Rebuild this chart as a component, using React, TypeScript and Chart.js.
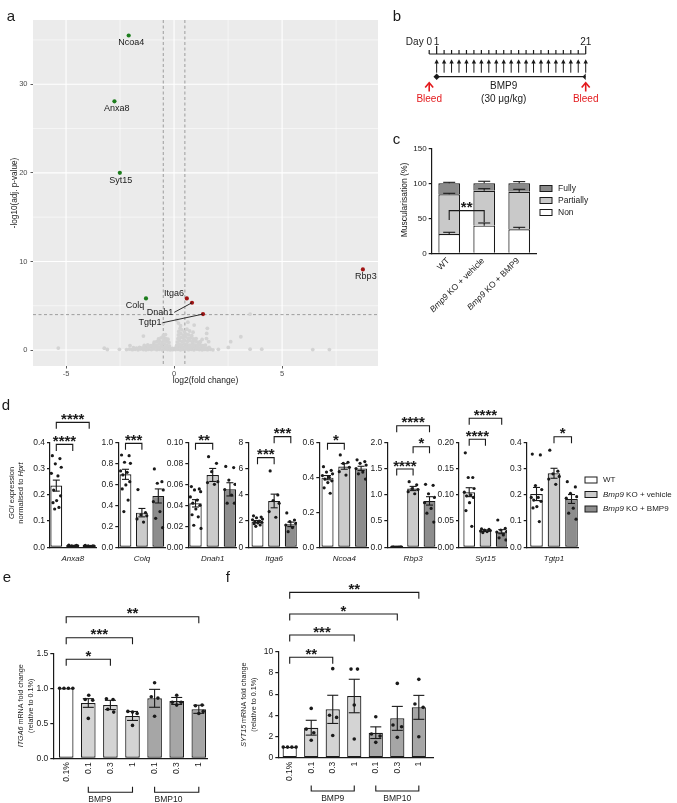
import React, { useEffect, useRef } from 'react';
import { Chart, registerables } from 'chart.js';

Chart.register(...registerables);

const PAGE_W = 677;
const PAGE_H = 803;
const SANS = "'Liberation Sans', Arial, Helvetica, sans-serif";
const INK = '#1a1a1a';
const RED = '#e3191c';

Chart.defaults.font.family = SANS;
Chart.defaults.color = INK;

/* ---------------- a: volcano plot ---------------- */
const VOLCANO_GENES = ['Ncoa4', 'Anxa8', 'Syt15', 'Colq', 'Itga6', 'Dnah1', 'Tgtp1', 'Rbp3'];
const VOLCANO_LOG2FC = [-2.1, -2.76, -2.51, -1.3, 0.59, 0.83, 1.34, 8.74];
const VOLCANO_NEGLOG10P = [35.5, 28.07, 20.0, 5.83, 5.83, 5.34, 4.06, 9.1];
// remaining (non-significant) genes: [log2FC, -log10 adj. p]
const VOLCANO_BACKGROUND: number[][] = [
  [-5.36, 0.22], [-3.23, 0.21], [-3.09, 0.06], [-2.53, 0.08], [-2.04, 0.5], [-1.42, 1.58],
  [-2.2, 0.05], [-2.06, 0.1], [-1.93, 0.04], [-1.8, 0.08], [-1.67, 0.03], [-1.55, 0.11], [-1.42, 0.06], [-1.3, 0.02],
  [-1.18, 0.09], [-1.05, 0.05], [-0.93, 0.12], [-0.8, 0.04], [-0.68, 0.08], [-0.55, 0.03], [-0.43, 0.1], [-0.3, 0.06],
  [-0.18, 0.02], [-0.06, 0.04], [0.06, 0.05], [0.18, 0.09], [0.3, 0.03], [0.42, 0.07], [0.55, 0.11], [0.67, 0.04],
  [0.8, 0.08], [0.92, 0.03], [1.05, 0.1], [1.17, 0.05], [1.3, 0.02], [1.42, 0.07], [1.55, 0.04], [1.68, 0.09], [1.8, 0.03],
  [-1.88, 0.28], [-1.74, 0.22], [-1.6, 0.31], [-1.47, 0.25], [-1.33, 0.33], [-1.2, 0.27], [-1.07, 0.35], [-0.95, 0.29],
  [-0.82, 0.36], [-0.7, 0.3], [-0.58, 0.38], [-0.45, 0.32], [-0.33, 0.27], [-0.2, 0.24], [-0.08, 0.2], [0.05, 0.22],
  [0.16, 0.3], [0.28, 0.36], [0.4, 0.29], [0.52, 0.38], [0.64, 0.33], [0.76, 0.27], [0.88, 0.36], [1.0, 0.3],
  [1.12, 0.25], [1.25, 0.33], [1.37, 0.28], [1.5, 0.22], [1.62, 0.3],
  [-1.38, 0.52], [-1.22, 0.58], [-1.08, 0.5], [-0.95, 0.62], [-0.82, 0.55], [-0.7, 0.68], [-0.58, 0.6], [-0.46, 0.7],
  [-0.34, 0.56], [-0.22, 0.48], [0.12, 0.52], [0.24, 0.64], [0.36, 0.58], [0.48, 0.7], [0.6, 0.62], [0.72, 0.55],
  [0.84, 0.66], [0.96, 0.58], [1.08, 0.52], [1.2, 0.6], [1.33, 0.5], [1.45, 0.56],
  [-0.92, 0.88], [-0.8, 0.95], [-0.68, 1.02], [-0.56, 0.9], [-0.45, 1.08], [-0.34, 0.96], [-0.24, 0.86], [0.15, 0.9],
  [0.26, 1.05], [0.38, 0.95], [0.5, 1.1], [0.62, 0.98], [0.74, 1.06], [0.86, 0.92], [0.98, 1.02], [1.1, 0.88],
  [1.22, 0.95], [1.6, 0.94],
  [-0.72, 1.25], [-0.6, 1.38], [-0.48, 1.45], [-0.38, 1.3], [-0.28, 1.22], [0.18, 1.28], [0.3, 1.42], [0.42, 1.35],
  [0.54, 1.48], [0.66, 1.32], [0.78, 1.4], [0.9, 1.25], [1.02, 1.3], [1.3, 1.2], [1.5, 1.3],
  [-0.5, 1.62], [-0.4, 1.75], [0.2, 1.7], [0.32, 1.85], [0.44, 1.66], [0.56, 1.8], [0.68, 1.72], [0.82, 1.62], [1.51, 1.88],
  [0.22, 2.1], [0.36, 2.28], [0.48, 2.05], [0.6, 2.35], [0.72, 2.15], [0.88, 2.02], [0.28, 2.45], [1.54, 2.45],
  [0.3, 2.75], [0.93, 2.82], [0.12, 3.39], [0.64, 3.15], [-0.5, 3.0], [0.2, 3.05],
  [2.05, 0.08], [2.51, 0.3], [2.62, 0.94], [3.09, 1.5], [3.52, 0.1], [4.06, 0.1], [6.42, 0.05], [7.19, 0.05], [3.52, 4.06],
];
const LOG2FC_CUTOFFS = [-0.5, 0.5];
const NEGLOG10P_CUTOFF = 4;
const VOLCANO_X_MAJOR = [-5, 0, 5];
const VOLCANO_X_MINOR = [-2.5, 2.5, 7.5];
const VOLCANO_Y_MAJOR = [0, 10, 20, 30];
const VOLCANO_Y_MINOR = [5, 15, 25, 35];
// label placement in px relative to each point, and whether a leader line is drawn
const VOLCANO_LABEL_SHIFT = [[2.5, 6.6], [2.4, 7], [1, 7.3], [-11, 6.7], [-12.7, -5], [-32, 9.6], [-53, 8.7], [3, 7]];
const VOLCANO_LEADER = [false, false, false, false, false, true, true, false];

/* ---------------- b: dosing timeline ---------------- */
const DOSING_DAYS = [1, 2, 3, 4, 5, 6, 7, 8, 9, 10, 11, 12, 13, 14, 15, 16, 17, 18, 19, 20, 21];
const RULER_DAYS = [0, 1, 2, 3, 4, 5, 6, 7, 8, 9, 10, 11, 12, 13, 14, 15, 16, 17, 18, 19, 20, 21];
const BLEED_DAYS = [0, 21];
const LABELLED_DAYS = [1, 21];
const DOSE_SPAN = [1, 21];

/* ---------------- c: muscularisation ---------------- */
const C_GROUPS: [string, boolean][][] = [
  [['WT', false]],
  [['Bmp9', true], [' KO + vehicle', false]],
  [['Bmp9', true], [' KO + BMP9', false]],
];
const C_NON = [27.5, 39.5, 34.3];
const C_PARTIAL = [56.8, 49.9, 53.7];
const C_FULLY = [15.7, 10.6, 12.0];
const C_NON_SEM = [2.5, 3.8, 2.8];
const C_PARTIAL_SEM = [1.4, 2.9, 3.4];
const C_FULLY_SEM = [1.4, 2.9, 2.4];
const C_CATEGORIES = ['Non', 'Partially', 'Fully'];

/* ---------------- d: qPCR of candidate genes ---------------- */
const D_GENES = ['Anxa8', 'Colq', 'Dnah1', 'Itga6', 'Ncoa4', 'Rbp3', 'Syt15', 'Tgtp1'];
const ANXA8_MEAN = [0.235, 0.006, 0.005];
const ANXA8_SEM = [0.021, 0.001, 0.001];
const ANXA8_DOTS = [
  [0.349, 0.338, 0.318, 0.305, 0.282, 0.272, 0.218, 0.196, 0.178, 0.17, 0.152, 0.146],
  [0.008, 0.007, 0.006, 0.006, 0.005, 0.005, 0.004],
  [0.007, 0.006, 0.006, 0.005, 0.005, 0.004, 0.004, 0.003],
];
const COLQ_MEAN = [0.695, 0.33, 0.489];
const COLQ_SEM = [0.048, 0.04, 0.067];
const COLQ_DOTS = [
  [0.879, 0.873, 0.81, 0.8, 0.727, 0.714, 0.689, 0.625, 0.594, 0.556, 0.45, 0.34],
  [0.55, 0.33, 0.31, 0.3, 0.27, 0.24],
  [0.746, 0.625, 0.61, 0.546, 0.435, 0.34, 0.276, 0.187],
];
const DNAH1_MEAN = [0.0419, 0.0689, 0.0552];
const DNAH1_SEM = [0.0035, 0.0062, 0.0063];
const DNAH1_DOTS = [
  [0.0578, 0.0556, 0.0546, 0.053, 0.048, 0.045, 0.042, 0.04, 0.0365, 0.031, 0.029, 0.021, 0.018],
  [0.0863, 0.08, 0.072, 0.0625, 0.0616, 0.06],
  [0.077, 0.0759, 0.064, 0.06, 0.055, 0.0498, 0.042, 0.042],
];
const ITGA6_MEAN = [1.956, 3.53, 1.75];
const ITGA6_SEM = [0.08, 0.52, 0.17];
const ITGA6_DOTS = [
  [2.4, 2.3, 2.25, 2.15, 2.1, 2.0, 1.95, 1.9, 1.85, 1.8, 1.7, 1.6],
  [5.82, 3.99, 3.56, 3.35, 2.72, 2.29],
  [2.62, 2.08, 1.96, 1.83, 1.7, 1.5, 1.19],
];
const NCOA4_MEAN = [0.398, 0.462, 0.451];
const NCOA4_SEM = [0.012, 0.016, 0.012];
const NCOA4_DOTS = [
  [0.461, 0.44, 0.43, 0.42, 0.41, 0.4, 0.39, 0.38, 0.37, 0.34, 0.309],
  [0.528, 0.486, 0.48, 0.457, 0.432, 0.413],
  [0.5, 0.49, 0.48, 0.47, 0.45, 0.43, 0.42, 0.39],
];
const RBP3_MEAN = [0.004, 1.12, 0.884];
const RBP3_SEM = [0.001, 0.04, 0.08];
const RBP3_DOTS = [
  [0.006, 0.005, 0.005, 0.004, 0.004, 0.003, 0.003, 0.003, 0.002, 0.002, 0.002],
  [1.25, 1.19, 1.12, 1.1, 1.06, 1.02],
  [1.2, 1.18, 1.02, 0.95, 0.85, 0.74, 0.65, 0.48],
];
const SYT15_MEAN = [0.105, 0.0317, 0.0298];
const SYT15_SEM = [0.0085, 0.0015, 0.0038];
const SYT15_DOTS = [
  [0.18, 0.133, 0.133, 0.112, 0.105, 0.1, 0.098, 0.095, 0.085, 0.07, 0.04],
  [0.035, 0.034, 0.033, 0.032, 0.031, 0.03, 0.028],
  [0.052, 0.036, 0.033, 0.03, 0.029, 0.0235, 0.018, 0.014],
];
const TGTP1_MEAN = [0.203, 0.282, 0.184];
const TGTP1_SEM = [0.025, 0.019, 0.017];
const TGTP1_DOTS = [
  [0.355, 0.352, 0.235, 0.22, 0.19, 0.19, 0.18, 0.175, 0.155, 0.15, 0.098],
  [0.37, 0.29, 0.28, 0.27, 0.26, 0.24],
  [0.25, 0.23, 0.206, 0.193, 0.187, 0.149, 0.13, 0.107],
];
const D_MEANS = [ANXA8_MEAN, COLQ_MEAN, DNAH1_MEAN, ITGA6_MEAN, NCOA4_MEAN, RBP3_MEAN, SYT15_MEAN, TGTP1_MEAN];
const D_SEMS = [ANXA8_SEM, COLQ_SEM, DNAH1_SEM, ITGA6_SEM, NCOA4_SEM, RBP3_SEM, SYT15_SEM, TGTP1_SEM];
const D_DOTS = [ANXA8_DOTS, COLQ_DOTS, DNAH1_DOTS, ITGA6_DOTS, NCOA4_DOTS, RBP3_DOTS, SYT15_DOTS, TGTP1_DOTS];
const D_YMAX = [0.4, 1.0, 0.1, 8, 0.6, 2.0, 0.2, 0.4];
const D_YSTEP = [0.1, 0.2, 0.02, 2, 0.2, 0.5, 0.05, 0.1];
const D_DECIMALS = [1, 1, 2, 0, 1, 1, 2, 1];
// comparisons: [group a, group b, bracket height (axis units), number of stars]
const D_COMPARISONS = [
  [[0, 1, 0.392, 4], [0, 2, 0.476, 4]],
  [[0, 1, 0.99, 3]],
  [[0, 1, 0.099, 2]],
  [[0, 1, 6.83, 3], [1, 2, 8.43, 3]],
  [[0, 1, 0.594, 1]],
  [[0, 1, 1.491, 4], [1, 2, 1.916, 1], [0, 2, 2.316, 4]],
  [[0, 1, 0.2057, 4], [0, 2, 0.2457, 4]],
  [[1, 2, 0.421, 1]],
];
const D_LEGEND: [string, boolean][][] = [
  [['WT', false]],
  [['Bmp9', true], [' KO + vehicle', false]],
  [['Bmp9', true], [' KO + BMP9', false]],
];
// small-multiple geometry (px): y-axis position, x-axis end, first bar centre, bar pitch
const D_LEFT = [50, 118.3, 188.3, 248.3, 319.3, 387.3, 459, 526.7];
const D_RIGHT = [96.7, 165, 236, 297, 368.5, 436, 507, 578.3];
const D_FIRST = [56.3, 125.5, 195.5, 257.5, 327.5, 396.7, 469.2, 536.5];
const D_PITCH = [16.45, 16.4, 17.2, 16.65, 16.8, 16.4, 16.25, 17.5];
const D_JITTER = [-0.24, 0.22, -0.06, 0.3, -0.3, 0.1, -0.16, 0.26, 0.02, -0.2, 0.16, -0.1, 0.32];
const D_FILL = ['#ffffff', '#cbcbcb', '#8d8d8d'];

/* ---------------- e / f: HPAEC treatments ---------------- */
const DOSE_LABELS = ['0.1%', '0.1', '0.3', '1', '0.1', '0.3', '1'];
const DOSE_GROUPS: [string, number, number][] = [['BMP9', 1, 3], ['BMP10', 4, 6]];
const ITGA6_FC_MEAN = [1.0, 0.79, 0.762, 0.605, 0.857, 0.819, 0.7];
const ITGA6_FC_SEM = [0, 0.062, 0.066, 0.064, 0.128, 0.05, 0.058];
const ITGA6_FC_DOTS = [
  [1, 1, 1, 1], [0.9, 0.84, 0.83, 0.57], [0.85, 0.84, 0.7, 0.66], [0.67, 0.66, 0.64, 0.47],
  [1.08, 0.88, 0.86, 0.6], [0.9, 0.8, 0.8, 0.76], [0.76, 0.75, 0.67, 0.64],
];
const ITGA6_FC_COMPARISONS = [[0, 2, 1.414, 1], [0, 3, 1.723, 3], [0, 6, 2.023, 2]];
const SYT15_FC_MEAN = [1.0, 2.83, 4.56, 5.82, 2.36, 3.71, 4.75];
const SYT15_FC_SEM = [0, 0.7, 1.33, 1.58, 0.55, 1.13, 1.13];
const SYT15_FC_DOTS = [
  [1, 1, 1, 1], [4.65, 2.7, 2.35, 1.65], [8.4, 4.0, 3.8, 2.1], [8.36, 8.36, 4.97, 1.76],
  [3.87, 2.23, 2.04, 1.45], [7.01, 3.08, 2.92, 1.92], [7.39, 5.06, 4.75, 1.98],
];
const SYT15_FC_COMPARISONS = [[0, 2, 9.47, 2], [0, 3, 11.58, 3], [0, 5, 13.56, 1], [0, 6, 15.6, 2]];
// horizontal spread of replicate dots (category units)
const ITGA6_DOT_SHIFT = [
  [-0.3, -0.1, 0.1, 0.3], [0.02, -0.14, 0.2, 0], [-0.18, 0.12, -0.12, 0.15], [-0.21, 0, 0.21, 0],
  [0, -0.15, 0.15, 0], [0, -0.2, 0.2, 0], [0.15, -0.15, 0.2, 0],
];
const SYT15_DOT_SHIFT = [
  [-0.3, -0.1, 0.1, 0.3], [0, -0.23, 0.12, 0], [0, -0.15, 0.18, 0], [-0.15, 0.15, 0, 0],
  [0, -0.2, 0.2, 0], [0, -0.2, 0.2, 0], [0, -0.18, 0.2, 0],
];
const DOSE_FILL = ['#ffffff', '#d4d4d4', '#d4d4d4', '#d4d4d4', '#a6a6a6', '#a6a6a6', '#a6a6a6'];

/* ---------------- drawing helpers ---------------- */
type Run = [string, boolean];
const font = (size: number, italic = false, bold = false) =>
  `${italic ? 'italic ' : ''}${bold ? 'bold ' : ''}${size}px ${SANS}`;

function drawText(ctx: any, runs: Run[] | string, size: number, x: number, y: number,
  align: 'left' | 'center' | 'right' = 'center', angle = 0, color = INK) {
  const parts: Run[] = typeof runs === 'string' ? [[runs, false]] : runs;
  ctx.save();
  ctx.translate(x, y);
  if (angle) ctx.rotate(angle);
  ctx.fillStyle = color;
  ctx.textBaseline = 'middle';
  ctx.textAlign = 'left';
  const widths = parts.map(([t, it]) => { ctx.font = font(size, it); return ctx.measureText(t).width; });
  const total = widths.reduce((a, b) => a + b, 0);
  let cx = align === 'left' ? 0 : align === 'center' ? -total / 2 : -total;
  parts.forEach(([t, it], i) => { ctx.font = font(size, it); ctx.fillText(t, cx, 0); cx += widths[i]; });
  ctx.restore();
  return total;
}

function path(ctx: any, pts: number[][]) {
  ctx.beginPath();
  pts.forEach(([x, y], i) => (i ? ctx.lineTo(x, y) : ctx.moveTo(x, y)));
  ctx.stroke();
}

function drawStars(ctx: any, n: number, cx: number, cy: number) {
  const size = 15;
  ctx.save();
  ctx.font = font(size, false, true);
  ctx.fillStyle = INK;
  ctx.textAlign = 'center';
  ctx.textBaseline = 'alphabetic';
  ctx.fillText('*'.repeat(n), cx, cy + size * 0.58);
  ctx.restore();
}

function drawBracket(ctx: any, x1: number, x2: number, y: number, legL: number, legR: number, n: number) {
  ctx.save();
  ctx.strokeStyle = INK;
  ctx.lineWidth = 1.1;
  path(ctx, [[x1, y + legL], [x1, y], [x2, y], [x2, y + legR]]);
  ctx.restore();
  drawStars(ctx, n, (x1 + x2) / 2, y - 7);
}

function legendBox(ctx: any, x: number, y: number, fill: string) {
  ctx.save();
  ctx.fillStyle = fill;
  ctx.strokeStyle = INK;
  ctx.lineWidth = 1;
  ctx.fillRect(x, y - 3, 12, 6);
  ctx.strokeRect(x, y - 3, 12, 6);
  ctx.restore();
}

/* ---------------- layout helpers ---------------- */
// Places the plot area of a page-sized canvas at (l, t)-(r, b).
function frame(l: number, t: number, r: number, b: number, yW: number, xH: number) {
  const zero = (s: any) => { s.paddingLeft = 0; s.paddingRight = 0; s.paddingTop = 0; s.paddingBottom = 0; };
  return {
    padding: { left: l - yW, top: t, right: PAGE_W - r, bottom: PAGE_H - b - xH },
    fitY: (s: any) => { s.width = yW; zero(s); },
    fitX: (s: any) => { s.height = xH; zero(s); },
  };
}

function baseOptions(fr: any) {
  return {
    responsive: false,
    animation: false,
    devicePixelRatio: 1,
    events: [],
    layout: { padding: fr.padding },
    plugins: { legend: { display: false }, tooltip: { enabled: false } },
  };
}

function prismY(fr: any, max: number, step: number, decimals: number, size: number) {
  return {
    type: 'linear',
    min: 0,
    max,
    afterFit: fr.fitY,
    border: { display: true, color: INK, width: 1.2 },
    grid: { display: true, drawOnChartArea: false, drawTicks: true, tickLength: 3, color: INK, lineWidth: 1.2 },
    ticks: { stepSize: step, color: INK, font: { size, family: SANS }, padding: 2, callback: (v: any) => Number(v).toFixed(decimals) },
  };
}

function prismX(fr: any, min: number, max: number, n: number) {
  return {
    type: 'linear',
    min,
    max,
    offset: false,
    afterFit: fr.fitX,
    afterBuildTicks: (s: any) => { s.ticks = Array.from({ length: n }, (_, i) => ({ value: i })); },
    border: { display: true, color: INK, width: 1.2 },
    grid: { display: false },
    ticks: { display: false },
  };
}

/* ---------------- a ---------------- */
const pageLetters = [['a', 6.7, 20.7], ['b', 392.7, 20.7], ['c', 392.7, 144], ['d', 1.7, 410], ['e', 2.7, 581.7], ['f', 225.7, 581.7]];

function volcanoConfig() {
  const fr = frame(33, 20, 378, 366, 25, 14);
  const genePts = VOLCANO_GENES.map((_, i) => ({ x: VOLCANO_LOG2FC[i], y: VOLCANO_NEGLOG10P[i] }));
  const down = genePts.filter((_, i) => VOLCANO_LOG2FC[i] < 0);
  const up = genePts.filter((_, i) => VOLCANO_LOG2FC[i] >= 0);
  const pointStyle = (c: string, r: number, order: number) => ({
    backgroundColor: c, pointBackgroundColor: c, pointRadius: r, pointBorderWidth: 0, borderWidth: 0, order,
  });
  const decor = {
    id: 'volcanoDecor',
    beforeDatasetsDraw(chart: any) {
      const { ctx, chartArea: a } = chart;
      const xs = chart.scales.x, ys = chart.scales.y;
      ctx.save();
      ctx.fillStyle = '#ebebeb';
      ctx.fillRect(a.left, a.top, a.right - a.left, a.bottom - a.top);
      ctx.strokeStyle = '#ffffff';
      const vline = (v: number) => { const x = xs.getPixelForValue(v); path(ctx, [[x, a.top], [x, a.bottom]]); };
      const hline = (v: number) => { const y = ys.getPixelForValue(v); path(ctx, [[a.left, y], [a.right, y]]); };
      ctx.lineWidth = 0.55;
      VOLCANO_X_MINOR.forEach(vline);
      VOLCANO_Y_MINOR.forEach(hline);
      ctx.lineWidth = 1.1;
      VOLCANO_X_MAJOR.forEach(vline);
      VOLCANO_Y_MAJOR.forEach(hline);
      ctx.strokeStyle = '#8a8a8a';
      ctx.lineWidth = 0.8;
      ctx.setLineDash([3, 2.5]);
      LOG2FC_CUTOFFS.forEach(vline);
      hline(NEGLOG10P_CUTOFF);
      ctx.restore();
    },
    afterDatasetsDraw(chart: any) {
      const { ctx } = chart;
      const xs = chart.scales.x, ys = chart.scales.y;
      VOLCANO_GENES.forEach((g, i) => {
        const px = xs.getPixelForValue(VOLCANO_LOG2FC[i]);
        const py = ys.getPixelForValue(VOLCANO_NEGLOG10P[i]);
        const lx = px + VOLCANO_LABEL_SHIFT[i][0];
        const ly = py + VOLCANO_LABEL_SHIFT[i][1];
        const w = drawText(ctx, g, 9, lx, ly);
        if (VOLCANO_LEADER[i]) {
          ctx.save();
          ctx.strokeStyle = INK;
          ctx.lineWidth = 0.9;
          path(ctx, [[lx + w / 2 + 1, ly], [px, py]]);
          ctx.restore();
        }
      });
    },
    afterDraw(chart: any) {
      const { ctx, chartArea: a } = chart;
      drawText(ctx, 'log2(fold change)', 8.5, (a.left + a.right) / 2, 381);
      drawText(ctx, '-log10(adj. p-value)', 8.2, 14.3, (a.top + a.bottom) / 2, 'center', -Math.PI / 2);
      ctx.save();
      ctx.fillStyle = INK;
      ctx.font = font(15);
      ctx.textBaseline = 'alphabetic';
      ctx.textAlign = 'left';
      pageLetters.forEach(([t, x, y]) => ctx.fillText(t as string, x as number, y as number));
      ctx.restore();
    },
  };
  const axisCommon = {
    border: { display: false },
    grid: { display: true, drawOnChartArea: false, drawTicks: true, tickLength: 2.5, color: '#333333', lineWidth: 0.8 },
  };
  return {
    type: 'scatter',
    data: {
      datasets: [
        { data: VOLCANO_BACKGROUND.map(([x, y]) => ({ x, y })), ...pointStyle('#d3d3d3', 1.9, 3) },
        { data: down, ...pointStyle('#1d7d1d', 2.1, 2) },
        { data: up, ...pointStyle('#a01414', 2.1, 1) },
      ],
    },
    options: {
      ...baseOptions(fr),
      scales: {
        x: {
          type: 'linear', min: -6.53, max: 9.44, afterFit: fr.fitX,
          afterBuildTicks: (s: any) => { s.ticks = VOLCANO_X_MAJOR.map((value) => ({ value })); },
          ...axisCommon,
          ticks: { color: '#4d4d4d', font: { size: 7.5, family: SANS }, padding: 0.5, maxRotation: 0, autoSkip: false },
        },
        y: {
          type: 'linear', min: -1.8, max: 37.25, afterFit: fr.fitY,
          afterBuildTicks: (s: any) => { s.ticks = VOLCANO_Y_MAJOR.map((value) => ({ value })); },
          ...axisCommon,
          ticks: { color: '#4d4d4d', font: { size: 7.5, family: SANS }, padding: 3 },
        },
      },
    },
    plugins: [decor],
  };
}

/* ---------------- b ---------------- */
function timelineConfig() {
  const fr = frame(429.2, 56.7, 585.7, 96.7, 0, 0);
  const decor = {
    id: 'timelineDecor',
    afterDraw(chart: any) {
      const { ctx } = chart;
      const xs = chart.scales.x;
      const X = (d: number) => xs.getPixelForValue(d);
      const rulerY = 54;
      ctx.save();
      ctx.strokeStyle = INK;
      ctx.fillStyle = INK;
      ctx.lineWidth = 1.2;
      path(ctx, [[X(RULER_DAYS[0]), rulerY], [X(RULER_DAYS[RULER_DAYS.length - 1]), rulerY]]);
      RULER_DAYS.forEach((d) => {
        const tall = LABELLED_DAYS.includes(d);
        path(ctx, [[X(d), rulerY], [X(d), rulerY - (tall ? 8 : 4)]]);
      });
      ctx.lineWidth = 1;
      DOSING_DAYS.forEach((d) => {
        const x = X(d);
        path(ctx, [[x, 72.7], [x, 62.5]]);
        ctx.beginPath();
        ctx.moveTo(x, 59.3);
        ctx.lineTo(x - 2.2, 63.6);
        ctx.lineTo(x + 2.2, 63.6);
        ctx.closePath();
        ctx.fill();
      });
      ctx.restore();
      ctx.save();
      ctx.font = font(10);
      const zeroW = ctx.measureText('0').width;
      ctx.restore();
      drawText(ctx, 'Day 0', 10, X(0) + zeroW / 2, 42, 'right');
      LABELLED_DAYS.forEach((d) => drawText(ctx, String(d), 10, X(d), 42));
      drawText(ctx, 'BMP9', 10, X(10), 86.7);
      drawText(ctx, '(30 \u03bcg/kg)', 10, X(10), 99.3);
      ctx.save();
      ctx.strokeStyle = RED;
      ctx.lineWidth = 1.6;
      BLEED_DAYS.forEach((d) => {
        const x = X(d);
        path(ctx, [[x, 91.5], [x, 83.2]]);
        path(ctx, [[x - 4, 87.6], [x, 82.8], [x + 4, 87.6]]);
      });
      ctx.restore();
      BLEED_DAYS.forEach((d) => drawText(ctx, 'Bleed', 10, X(d), 99.5, 'center', 0, RED));
    },
  };
  return {
    type: 'line',
    data: {
      datasets: [{
        data: DOSE_SPAN.map((d) => ({ x: d, y: 0 })),
        borderColor: INK, borderWidth: 1.2, pointStyle: 'rectRot', pointRadius: 3.2,
        pointBackgroundColor: INK, pointBorderColor: INK, pointBorderWidth: 0,
      }],
    },
    options: {
      ...baseOptions(fr),
      scales: {
        x: { type: 'linear', min: 0, max: 21, display: false, afterFit: fr.fitX },
        y: { type: 'linear', min: -1, max: 1, display: false, afterFit: fr.fitY },
      },
    },
    plugins: [decor],
  };
}

/* ---------------- c ---------------- */
function muscularisationConfig() {
  const fr = frame(431.7, 148.3, 536.7, 253.3, 24, 4);
  const stacks = [C_NON, C_PARTIAL, C_FULLY];
  const sems = [C_NON_SEM, C_PARTIAL_SEM, C_FULLY_SEM];
  const fills = ['#ffffff', '#c9c9c9', '#8a8a8a'];
  const decor = {
    id: 'cDecor',
    afterDatasetsDraw(chart: any) {
      const { ctx } = chart;
      const ys = chart.scales.y;
      ctx.save();
      ctx.strokeStyle = INK;
      ctx.lineWidth = 1.1;
      stacks.forEach((_, si) => {
        chart.getDatasetMeta(si).data.forEach((bar: any, j: number) => {
          let cum = 0;
          for (let k = 0; k <= si; k++) cum += stacks[k][j];
          const y0 = ys.getPixelForValue(cum);
          const y1 = ys.getPixelForValue(cum + sems[si][j]);
          path(ctx, [[bar.x, y0], [bar.x, y1]]);
          path(ctx, [[bar.x - 6, y1], [bar.x + 6, y1]]);
        });
      });
      ctx.restore();
    },
    afterDraw(chart: any) {
      const { ctx } = chart;
      const xs = chart.scales.x, ys = chart.scales.y;
      const x0 = xs.getPixelForValue(0), x1 = xs.getPixelForValue(1);
      const yb = ys.getPixelForValue(61);
      drawBracket(ctx, x0, x1, yb, ys.getPixelForValue(47.5) - yb, ys.getPixelForValue(44.3) - yb, 2);
      C_GROUPS.forEach((runs, j) => {
        drawText(ctx, runs, 8.5, xs.getPixelForValue(j) - 1, 259.5, 'right', -Math.PI / 4);
      });
      drawText(ctx, 'Muscularisation (%)', 8.5, 405, 200, 'center', -Math.PI / 2);
      const legendY = [188.5, 200.5, 212.5];
      [2, 1, 0].forEach((si, k) => {
        legendBox(ctx, 540, legendY[k], fills[si]);
        drawText(ctx, C_CATEGORIES[si], 8.5, 558, legendY[k], 'left');
      });
    },
  };
  return {
    type: 'bar',
    data: {
      labels: C_GROUPS.map((g) => g.map((r) => r[0]).join('')),
      datasets: stacks.map((vals, si) => ({
        label: C_CATEGORIES[si],
        data: vals,
        backgroundColor: fills[si],
        borderColor: INK,
        borderWidth: { top: 1.2, left: 1.2, right: 1.2, bottom: 0 },
        borderSkipped: false,
        barPercentage: 0.62,
        categoryPercentage: 1,
      })),
    },
    options: {
      ...baseOptions(fr),
      scales: {
        x: {
          type: 'category', stacked: true, offset: true, afterFit: fr.fitX,
          border: { display: true, color: INK, width: 1.2 }, grid: { display: false }, ticks: { display: false },
        },
        y: { ...prismY(fr, 150, 50, 0, 8), stacked: true },
      },
    },
    plugins: [decor],
  };
}

/* ---------------- bar + scatter panels (d, e, f) ---------------- */
function prismPanel(p: any) {
  const fr = frame(p.l, p.t, p.r, p.b, 32, 4);
  const n = p.mean.length;
  const decor = {
    id: 'prismDecor',
    afterDatasetDraw(chart: any, args: any) {
      if (args.index !== 0) return;
      const { ctx } = chart;
      const ys = chart.scales.y;
      ctx.save();
      ctx.strokeStyle = INK;
      ctx.lineWidth = 1.1;
      chart.getDatasetMeta(0).data.forEach((bar: any, i: number) => {
        const s = p.sem[i];
        if (!s) return;
        const top = ys.getPixelForValue(p.mean[i] + s);
        const bot = ys.getPixelForValue(Math.max(0, p.mean[i] - s));
        const h = p.cap / 2;
        path(ctx, [[bar.x, top], [bar.x, bot]]);
        path(ctx, [[bar.x - h, top], [bar.x + h, top]]);
        path(ctx, [[bar.x - h, bot], [bar.x + h, bot]]);
      });
      ctx.restore();
    },
    afterDraw(chart: any) {
      const { ctx } = chart;
      const xs = chart.scales.x, ys = chart.scales.y;
      p.comparisons.forEach(([i, j, lvl, k]: number[]) => {
        drawBracket(ctx, xs.getPixelForValue(i), xs.getPixelForValue(j), ys.getPixelForValue(lvl), 6.5, 6.5, k);
      });
      if (p.extra) p.extra(ctx, chart);
    },
  };
  return {
    type: 'bar',
    data: {
      datasets: [
        {
          type: 'bar',
          data: p.mean.map((v: number, i: number) => ({ x: i, y: v })),
          backgroundColor: p.fill,
          borderColor: INK,
          borderWidth: 1.2,
          borderSkipped: false,
          barPercentage: p.barPct,
          categoryPercentage: 1,
          order: 2,
        },
        {
          type: 'scatter',
          data: p.dots,
          backgroundColor: INK,
          pointBackgroundColor: INK,
          pointRadius: p.dotR,
          pointBorderWidth: 0,
          borderWidth: 0,
          order: 1,
        },
      ],
    },
    options: {
      ...baseOptions(fr),
      scales: {
        x: prismX(fr, p.xMin, p.xMax, n),
        y: prismY(fr, p.yMax, p.yStep, p.dec, p.tickSize),
      },
    },
    plugins: [decor],
  };
}

function geneConfig(i: number) {
  const l = D_LEFT[i], r = D_RIGHT[i], c0 = D_FIRST[i], pitch = D_PITCH[i];
  const dots = D_DOTS[i].flatMap((vals, g) => vals.map((v, k) => ({ x: g + D_JITTER[k % D_JITTER.length], y: v })));
  return prismPanel({
    l, r, t: 442.3, b: 547.3,
    xMin: (l - c0) / pitch,
    xMax: (r - c0) / pitch,
    yMax: D_YMAX[i], yStep: D_YSTEP[i], dec: D_DECIMALS[i], tickSize: 8.5,
    mean: D_MEANS[i], sem: D_SEMS[i], dots,
    fill: D_FILL, barPct: 0.72, cap: 7, dotR: 1.6,
    comparisons: D_COMPARISONS[i],
    extra: (ctx: any, chart: any) => {
      const xs = chart.scales.x;
      drawText(ctx, [[D_GENES[i], true]], 8, xs.getPixelForValue(1), 558.5);
      if (i === 0) {
        drawText(ctx, [['GOI', true], [' expression', false]], 7.5, 11.7, 493, 'center', -Math.PI / 2);
        drawText(ctx, [['normalised to ', false], ['Hprt', true]], 7.5, 20.5, 493, 'center', -Math.PI / 2);
      }
      if (i === D_GENES.length - 1) {
        const ly = [480, 494.5, 509];
        D_LEGEND.forEach((runs, k) => {
          legendBox(ctx, 585, ly[k], D_FILL[k]);
          drawText(ctx, runs, 8, 603, ly[k], 'left');
        });
      }
    },
  });
}

function doseConfig(opts: any) {
  const { l, t, r, b, first, pitch, mean, sem, dots, shift, yMax, yStep, dec, comparisons, title, groupY, groupAlign, titleX } = opts;
  const pts = dots.flatMap((vals: number[], g: number) => vals.map((v, k) => ({ x: g + shift[g][k], y: v })));
  return prismPanel({
    l, r, t, b,
    xMin: (l - first) / pitch,
    xMax: (r - first) / pitch,
    yMax, yStep, dec, tickSize: 8.5,
    mean, sem, dots: pts,
    fill: DOSE_FILL, barPct: 0.66, cap: 11, dotR: 1.8,
    comparisons,
    extra: (ctx: any, chart: any) => {
      const xs = chart.scales.x;
      DOSE_LABELS.forEach((lab, i) => drawText(ctx, lab, 8.5, xs.getPixelForValue(i), b + 4, 'right', -Math.PI / 2));
      ctx.save();
      ctx.strokeStyle = INK;
      ctx.lineWidth = 1.1;
      DOSE_GROUPS.forEach(([name, a, z]) => {
        const x1 = xs.getPixelForValue(a), x2 = xs.getPixelForValue(z);
        path(ctx, [[x1, groupY - 5.6], [x1, groupY], [x2, groupY], [x2, groupY - 5.6]]);
      });
      ctx.restore();
      DOSE_GROUPS.forEach(([name, a, z]) => {
        const x1 = xs.getPixelForValue(a), x2 = xs.getPixelForValue(z);
        if (groupAlign === 'left') drawText(ctx, name, 8.5, x1, groupY + 7.7, 'left');
        else drawText(ctx, name, 8.5, (x1 + x2) / 2, groupY + 7.7, 'center');
      });
      const cy = (t + b) / 2;
      drawText(ctx, title, 7.2, titleX, cy, 'center', -Math.PI / 2);
      drawText(ctx, '(relative to 0.1%)', 7.2, titleX + 10, cy, 'center', -Math.PI / 2);
    },
  });
}

function itga6Config() {
  return doseConfig({
    l: 53.3, t: 653.3, r: 207.5, b: 758.3, first: 66.2, pitch: 22.1,
    mean: ITGA6_FC_MEAN, sem: ITGA6_FC_SEM, dots: ITGA6_FC_DOTS, shift: ITGA6_DOT_SHIFT,
    yMax: 1.5, yStep: 0.5, dec: 1, comparisons: ITGA6_FC_COMPARISONS,
    title: [['ITGA6', true], [' mRNA fold change', false]], groupY: 792.3, groupAlign: 'left', titleX: 20.7,
  });
}

function syt15Config() {
  return doseConfig({
    l: 278.3, t: 651.7, r: 433.3, b: 757.7, first: 289.7, pitch: 21.52,
    mean: SYT15_FC_MEAN, sem: SYT15_FC_SEM, dots: SYT15_FC_DOTS, shift: SYT15_DOT_SHIFT,
    yMax: 10, yStep: 2, dec: 0, comparisons: SYT15_FC_COMPARISONS,
    title: [['SYT15', true], [' mRNA fold change', false]], groupY: 791, groupAlign: 'center', titleX: 244,
  });
}

/* ---------------- page ---------------- */
const BUILDERS: (() => any)[] = [
  volcanoConfig,
  timelineConfig,
  muscularisationConfig,
  ...D_GENES.map((_, i) => () => geneConfig(i)),
  itga6Config,
  syt15Config,
];

function Layer({ build }: { build: () => any }) {
  const ref = useRef<HTMLCanvasElement | null>(null);
  useEffect(() => {
    const chart = new Chart(ref.current as HTMLCanvasElement, build());
    return () => chart.destroy();
  }, [build]);
  return (
    <canvas
      ref={ref}
      width={PAGE_W}
      height={PAGE_H}
      style={{ position: 'absolute', left: 0, top: 0, width: PAGE_W, height: PAGE_H }}
    />
  );
}

export default function App() {
  return (
    <div style={{ position: 'absolute', left: 0, top: 0, width: PAGE_W, height: PAGE_H, background: '#ffffff', overflow: 'hidden' }}>
      {BUILDERS.map((b, i) => <Layer key={i} build={b} />)}
    </div>
  );
}
